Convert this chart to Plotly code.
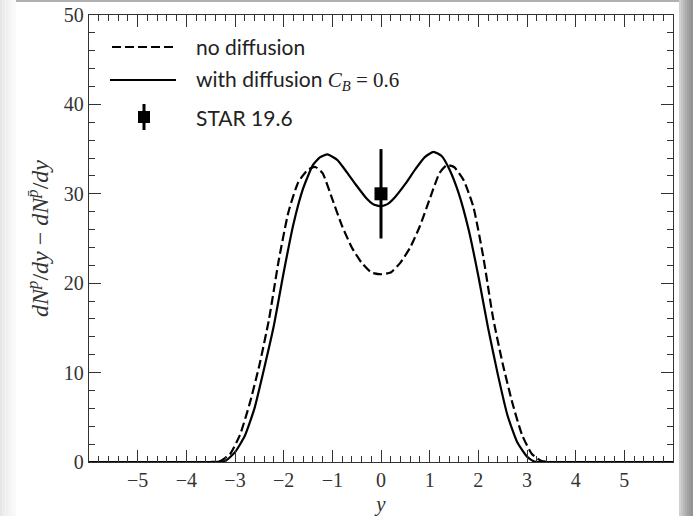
import plotly.graph_objects as go

# ---- data ----
y_nodiff = [-6, -3.5, -3.3, -3.1, -2.9, -2.7, -2.5, -2.3, -2.1, -1.9, -1.7, -1.5, -1.35, -1.2, -1.0,
            -0.8, -0.6, -0.4, -0.2, 0.0, 0.2, 0.4, 0.6, 0.8, 1.0, 1.2, 1.35, 1.5, 1.7, 1.9,
            2.1, 2.3, 2.5, 2.7, 2.9, 3.1, 3.3, 3.5, 6]
v_nodiff = [0, 0, 0.1, 0.9, 3.0, 6.5, 10.8, 16.0, 22.6, 28.0, 31.3, 32.7, 33.0, 32.3, 29.4,
            26.4, 24.0, 22.3, 21.2, 21.0, 21.2, 22.3, 24.0, 26.4, 29.4, 32.3, 33.2, 33.0, 31.5, 28.5,
            23.0, 16.2, 11.0, 6.6, 3.0, 0.9, 0.1, 0, 0]

y_diff = [-6, -3.4, -3.2, -3.0, -2.8, -2.6, -2.4, -2.2, -2.0, -1.8, -1.6, -1.4, -1.25, -1.1, -0.9,
          -0.7, -0.5, -0.3, -0.15, 0.0, 0.15, 0.3, 0.5, 0.7, 0.9, 1.08, 1.25, 1.4, 1.6, 1.8,
          2.0, 2.2, 2.4, 2.6, 2.8, 3.0, 3.15, 3.4, 6]
v_diff = [0, 0, 0.1, 1.1, 2.9, 6.0, 10.5, 15.3, 21.2, 26.6, 30.6, 33.2, 34.1, 34.4, 33.8,
          32.4, 30.9, 29.5, 28.8, 28.6, 28.9, 29.7, 31.1, 32.7, 34.1, 34.7, 34.2, 32.8, 30.0, 26.0,
          20.8, 15.0, 9.8, 5.2, 2.2, 0.6, 0.05, 0, 0]

star_y = [0.0]
star_v = [30.0]
star_err = [5.0]

x_ticks = [-5, -4, -3, -2, -1, 0, 1, 2, 3, 4, 5]
y_ticks = [0, 10, 20, 30, 40, 50]

SERIF = "Liberation Serif"
SANS = "Lato"

fig = go.Figure()
fig.add_trace(go.Scatter(x=y_nodiff, y=v_nodiff, mode="lines", name="no diffusion",
                         line=dict(color="black", width=2.2, dash="9px,4px", shape="spline", smoothing=0.5),
                         showlegend=False))
fig.add_trace(go.Scatter(x=y_diff, y=v_diff, mode="lines", name="with diffusion C_B = 0.6",
                         line=dict(color="black", width=2.2, shape="spline", smoothing=0.5),
                         showlegend=False))
fig.add_trace(go.Scatter(x=star_y, y=star_v, mode="markers", name="STAR 19.6",
                         marker=dict(symbol="square", size=13, color="black"),
                         error_y=dict(type="data", array=star_err, color="black", thickness=3, width=0),
                         showlegend=False))

# ---- manual legend (paper coordinates) ----
def px2x(px):
    return (px - 89) / 584.0

def px2y(py):
    return (462 - py) / 447.0

shapes = []
annotations = []
rows = [47, 80, 117]
shapes.append(dict(type="line", xref="paper", yref="paper", x0=px2x(112), x1=px2x(176),
                   y0=px2y(rows[0]), y1=px2y(rows[0]), line=dict(color="black", width=2.2, dash="9px,4px")))
shapes.append(dict(type="line", xref="paper", yref="paper", x0=px2x(110), x1=px2x(176),
                   y0=px2y(rows[1]), y1=px2y(rows[1]), line=dict(color="black", width=2.2)))
shapes.append(dict(type="line", xref="paper", yref="paper", x0=px2x(144), x1=px2x(144),
                   y0=px2y(104), y1=px2y(130), line=dict(color="black", width=3)))
shapes.append(dict(type="rect", xref="paper", yref="paper", x0=px2x(138), x1=px2x(150),
                   y0=px2y(111), y1=px2y(123), fillcolor="black", line=dict(width=0)))

legend_texts = [
    "no diffusion",
    "with diffusion <span style=\"font-family:%s\"><i>C</i><sub><i>B</i></sub> = 0.6</span>" % SERIF,
    "STAR 19.6",
]
for t, r in zip(legend_texts, rows):
    annotations.append(dict(text=t, xref="paper", yref="paper", x=px2x(194), y=px2y(r),
                            xanchor="left", yanchor="middle", showarrow=False,
                            font=dict(family=SANS, size=21, color="#222")))

# ---- page frame decoration ----
left_cols = ["#e6e6e6", "#ececec", "#f0f0f0", "#f3f3f3", "#f6f6f6", "#f9f9f9"]
for i, c in enumerate(left_cols):
    w = 16 / len(left_cols)
    shapes.append(dict(type="rect", xref="paper", yref="paper", x0=px2x(i * w), x1=px2x((i + 1) * w),
                       y0=px2y(516), y1=px2y(0), fillcolor=c, line=dict(width=0), layer="above"))
right_cols = ["#d0d0d0", "#c4c4c4", "#b8b8b8", "#adadad", "#a3a3a3", "#9a9a9a", "#939393"]
for i, c in enumerate(right_cols):
    w = 14 / len(right_cols)
    shapes.append(dict(type="rect", xref="paper", yref="paper", x0=px2x(679 + i * w), x1=px2x(679 + (i + 1) * w),
                       y0=px2y(516), y1=px2y(0), fillcolor=c, line=dict(width=0), layer="above"))
shapes.append(dict(type="rect", xref="paper", yref="paper", x0=px2x(16), x1=px2x(679),
                   y0=px2y(2), y1=px2y(0), fillcolor="#b0b0b0", line=dict(width=0), layer="above"))

fig.update_layout(
    width=693, height=516,
    margin=dict(l=89, r=20, t=15, b=54, autoexpand=False),
    paper_bgcolor="white", plot_bgcolor="white",
    shapes=shapes, annotations=annotations,
    showlegend=False,
)

axis_common = dict(showline=True, linecolor="#333", linewidth=1.3, mirror="ticks",
                   ticks="inside", ticklen=12, tickwidth=1.1, tickcolor="#333",
                   showgrid=False, zeroline=False, automargin=False,
                   tickfont=dict(family=SERIF, size=20, color="#333"))

fig.update_xaxes(range=[-6, 6], tickvals=x_ticks, ticktext=["−%d" % abs(v) if v < 0 else str(v) for v in x_ticks],
                 minor=dict(dtick=0.2, ticks="inside", ticklen=6, tickwidth=1, tickcolor="#333"),
                 title=dict(text="<i>y</i>", font=dict(family=SERIF, size=21, color="#333"), standoff=6),
                 **axis_common)
fig.update_yaxes(range=[0, 50], tickvals=y_ticks,
                 minor=dict(dtick=2, ticks="inside", ticklen=6, tickwidth=1, tickcolor="#333"),
                 title=dict(text="<i>dN</i><sup><i>p</i></sup>/<i>dy</i> − <i>dN</i><sup><i>p̄</i></sup>/<i>dy</i>",
                            font=dict(family=SERIF, size=24, color="#333"), standoff=8),
                 **axis_common)

fig.write_html("out.html", config={"displayModeBar": False},
               post_script="document.body.style.margin='0';document.body.style.overflow='hidden';")
